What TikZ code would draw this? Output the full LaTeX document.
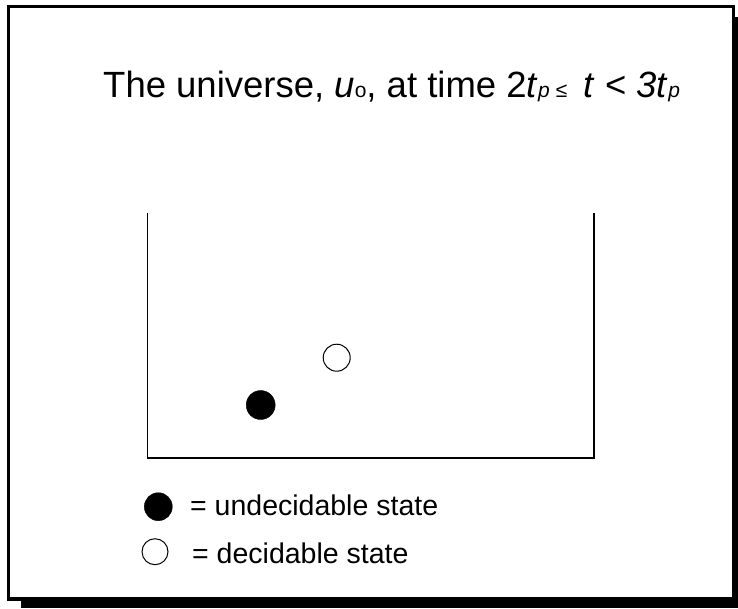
\documentclass[tikz,border=0pt]{standalone}
\usepackage{fontspec}
\setmainfont{Liberation Sans}
\newcommand{\lowsub}[1]{{\fontsize{21}{21}\selectfont #1}}
\begin{document}
\begin{tikzpicture}[x=1pt, y=-1pt,
    undecided/.style={draw, circle, fill=black, minimum size=29pt, inner sep=0pt},
    decided/.style={draw, circle, fill=white, line width=1pt, minimum size=27pt, inner sep=0pt},
    legendtext/.style={anchor=base west, inner sep=0pt, font=\fontsize{28.5}{32}\selectfont}]
        \useasboundingbox (0,0) rectangle (738,608);

        % Shadow and frame
        \fill[black] (20.7,17) rectangle (738,608);
        \draw[line width=3.3pt, fill=white] (8.3,6.7) rectangle (733.7,599);

        % Title
        \node[anchor=base west, inner sep=0pt, font=\fontsize{36.5}{42}\selectfont] (title) at (103,97)
            {The universe, \textit{u}\lowsub{o}, at time 2\textit{t}\lowsub{\textit{p}}\,\lowsub{≤}\, \textit{t} < \textit{3t}\lowsub{\textit{p}}};

        % Container
        \coordinate (tl) at (147.5,213);
        \coordinate (bl) at (147.5,458);
        \coordinate (br) at (594,458);
        \coordinate (tr) at (594,213);
        \draw[line width=1.3pt] (tl) -- (bl) -- (br) -- (tr);

        % States in the universe
        \node[undecided] (sfull) at (260.7,405) {};
        \node[decided] (sopen) at (336.7,357.7) {};

        % Legend
        \node[undecided, minimum size=28pt] (keyfull) at (158.3,506.7) {};
        \node[decided, minimum size=26pt] (keyopen) at (155,551.7) {};
        \node[legendtext] (keyfulltext) at (190,515) {= undecidable state};
        \node[legendtext] (keyopentext) at (192,563) {= decidable state};
\end{tikzpicture}
\end{document}
